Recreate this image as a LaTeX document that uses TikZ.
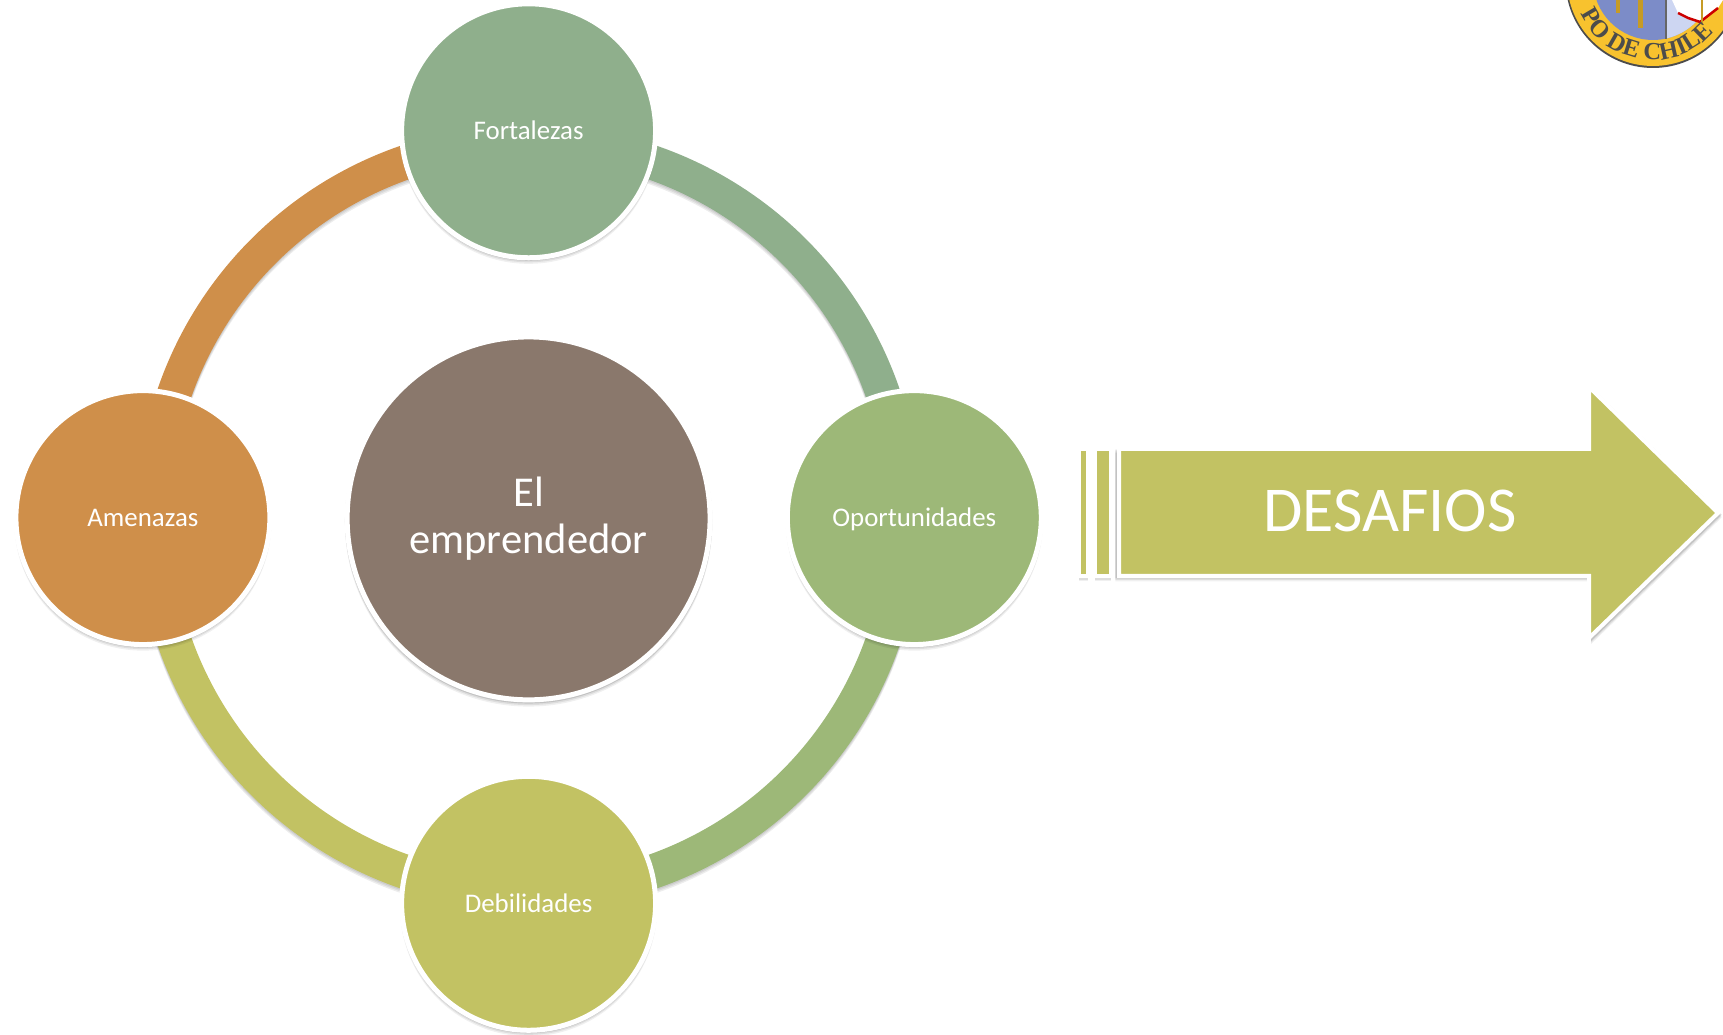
\documentclass[tikz,border=0pt]{standalone}
\usepackage{fontspec}
\setmainfont{Carlito}
\newfontfamily\sealfont{Liberation Serif}
\usepackage{xcolor}
\usetikzlibrary{positioning,backgrounds,shadows,calc,decorations.text}
\definecolor{cfort}{HTML}{8FAF8C}
\definecolor{coport}{HTML}{9DB878}
\definecolor{cdeb}{HTML}{C2C263}
\definecolor{camen}{HTML}{CF8F4A}
\definecolor{cemp}{HTML}{8A786C}
\definecolor{sealgold}{HTML}{F8C22E}
\definecolor{sealblue}{HTML}{7C8CC8}
\definecolor{seallight}{HTML}{CDD6F2}
\tikzset{
	softshadow/.style={
		drop shadow={shadow xshift=0, shadow yshift=-0.3mm, shadow scale=1.012, fill=black, opacity=0.12},
		drop shadow={shadow xshift=0, shadow yshift=-0.6mm, shadow scale=1.012, fill=black, opacity=0.08},
		drop shadow={shadow xshift=0, shadow yshift=-0.9mm, shadow scale=1.012, fill=black, opacity=0.06}},
	satnode/.style={circle, draw=white, line width=1mm, minimum size=50.8mm, inner sep=0, text=white, text height=3.5mm, text depth=0mm, font=\fontsize{15.3}{17}\selectfont, softshadow},
	hubnode/.style={circle, draw=white, line width=1mm, minimum size=72.6mm, inner sep=0, text=white, align=center, font=\fontsize{24.2}{27}\selectfont, softshadow},
	ringarc/.style={line width=6.9mm, bend left=45},
	ringshade/.style={line width=6.9mm, bend left=45, black, opacity=0.07, transform canvas={yshift=#1}},
	arrowpart/.style={draw=white, line width=0.8mm, fill=cdeb, softshadow},
}
\begin{document}
\begin{tikzpicture}[x=0.02cm, y=0.02cm]
		\useasboundingbox (0,0) rectangle (1723,1034);
		\node[hubnode, fill=cemp] at(528.6,515.6) (hub) {El\\emprendedor};
		\node[satnode, fill=cfort] at(528.6,903.2) (fort) {Fortalezas};
		\node[satnode, fill=coport] at(914.3,516.4) (oport) {Oportunidades};
		\node[satnode, fill=cdeb] at(528.6,130.7) (deb) {Debilidades};
		\node[satnode, fill=camen] at(142.9,516.4) (amen) {Amenazas};
		\begin{pgfonlayer}{background}
			\foreach \a/\b/\c in {fort/oport/cfort,oport/deb/coport,deb/amen/cdeb,amen/fort/camen} {
				\foreach \s in {-0.3mm,-0.6mm,-0.9mm} {
					\draw[ringshade=\s] ($(hub)!0.972!(\a)$) to ($(hub)!0.972!(\b)$);
				};
				\draw[ringarc, \c] ($(hub)!0.972!(\a)$) to ($(hub)!0.972!(\b)$);
			};
		\end{pgfonlayer}
		% arrow
		\foreach \l/\r in {1079/1087.5,1095/1111} {
			\draw[arrowpart] (\l,458) rectangle (\r,585);
		};
		\draw[arrowpart] (1119,585) -- (1589,585) -- (1589,647) -- (1718,521) -- (1589,396) -- (1589,458) -- (1119,458) -- cycle;
		\node[text=white, font=\fontsize{36.4}{40}\selectfont] at(1390,523) (desafios) {DESAFIOS};
		% seal
		\begin{scope}
			\clip (1500,950) rectangle (1723,1034);
			\fill[black!70] (1653,1053.5) circle (87.5);
			\fill[sealgold] (1653,1054) circle (86);
			\fill[sealblue] (1653,1054) circle (60);
			\fill[seallight] (1666,1054) -- (1666,995.4) arc (-77.5:0:60) -- cycle;
			\draw[line width=0.25mm, black!60] (1666,1034) -- (1666,995);
			\fill[white] (1672,1034) -- (1678,1021) -- (1700,1012) -- (1718,1026) -- (1723,1034) -- cycle;
			\draw[line width=0.5mm, red!80!black] (1678,1021) -- (1688,1016) -- (1700,1012) -- (1718,1026);
			\draw[line width=0.4mm, sealgold!80!black] (1702,1034) -- (1702,1009);
			\draw[line width=1mm, sealgold!80!black] (1640,1034) -- (1640,1006);
			\draw[line width=0.7mm, sealgold!80!black] (1618,1034) -- (1618,1021);
			\path[postaction={decorate, decoration={text along path, text align=fit to path, text={|\sealfont\bfseries\fontsize{14}{15}\selectfont\color{black!70}|PO DE CHILE}}}] (1580.5,1020.2) arc (-155:-40:80);
		\end{scope}
	\end{tikzpicture}
\end{document}
